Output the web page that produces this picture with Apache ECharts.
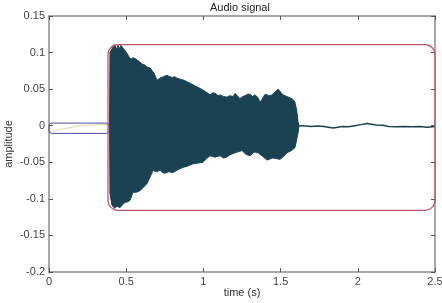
<!DOCTYPE html>
<html>
<head>
<meta charset="utf-8">
<script src="https://cdn.jsdelivr.net/npm/echarts@6/dist/echarts.min.js"></script>
<style>html,body{margin:0;padding:0;background:#fff}#c{width:442px;height:303px}</style>
</head>
<body>
<div id="c"></div>
<script>
// Upper envelope of the audio burst (time s, amplitude)
const upperT = [0.392,0.395,0.410,0.420,0.427,0.437,0.447,0.456,0.466,0.480,0.492,0.505,0.518,0.531,0.545,0.563,0.575,0.589,0.605,0.620,0.637,0.654,0.668,0.680,0.699,0.719,0.740,0.764,0.782,0.800,0.815,0.829,0.845,0.860,0.877,0.894,0.915,0.940,0.960,0.978,0.995,1.010,1.025,1.043,1.060,1.080,1.095,1.108,1.130,1.153,1.168,1.180,1.193,1.205,1.220,1.237,1.255,1.270,1.285,1.302,1.318,1.334,1.352,1.367,1.380,1.390,1.400,1.412,1.428,1.444,1.463,1.483,1.500,1.516,1.540,1.561,1.580,1.593,1.605,1.613,1.619];
const upperA = [0.000,0.100,0.106,0.104,0.111,0.104,0.110,0.105,0.110,0.106,0.103,0.099,0.094,0.091,0.093,0.091,0.089,0.087,0.084,0.083,0.080,0.079,0.075,0.072,0.062,0.065,0.067,0.069,0.067,0.066,0.067,0.065,0.064,0.063,0.062,0.060,0.058,0.055,0.053,0.051,0.049,0.047,0.045,0.042,0.045,0.044,0.041,0.042,0.040,0.039,0.041,0.042,0.040,0.044,0.041,0.037,0.040,0.041,0.043,0.043,0.040,0.042,0.039,0.032,0.036,0.040,0.043,0.044,0.041,0.042,0.046,0.050,0.046,0.042,0.040,0.038,0.036,0.032,0.020,0.005,0.000];
// Lower envelope
const lowerT = [0.392,0.395,0.408,0.427,0.440,0.460,0.475,0.492,0.510,0.525,0.544,0.565,0.589,0.612,0.635,0.655,0.674,0.695,0.719,0.735,0.751,0.775,0.803,0.835,0.868,0.900,0.933,0.965,0.997,1.020,1.043,1.075,1.108,1.130,1.150,1.170,1.192,1.220,1.250,1.275,1.302,1.330,1.354,1.385,1.412,1.450,1.496,1.520,1.541,1.570,1.593,1.613,1.619];
const lowerA = [0.000,-0.093,-0.109,-0.113,-0.110,-0.112,-0.108,-0.105,-0.104,-0.102,-0.091,-0.091,-0.089,-0.084,-0.079,-0.070,-0.061,-0.063,-0.061,-0.064,-0.065,-0.063,-0.064,-0.060,-0.057,-0.055,-0.052,-0.051,-0.050,-0.045,-0.041,-0.043,-0.041,-0.044,-0.043,-0.040,-0.038,-0.036,-0.034,-0.039,-0.041,-0.036,-0.037,-0.042,-0.047,-0.044,-0.046,-0.042,-0.037,-0.034,-0.030,-0.010,0.000];
// Residual signal after the burst
const tailT = [0.392,1.619,1.66,1.70,1.74,1.78,1.81,1.84,1.87,1.90,1.94,1.98,2.02,2.06,2.09,2.12,2.16,2.20,2.25,2.30,2.35,2.40,2.45,2.50];
const tailA = [0.000,0.000,-0.0005,-0.001,-0.0005,-0.001,-0.002,-0.003,-0.002,-0.001,-0.0015,0.000,0.0015,0.003,0.002,0.001,0.0005,-0.001,-0.0015,-0.001,-0.0015,-0.001,-0.002,-0.001];
// Faint yellow trace before onset
const preT = [0.00,0.10,0.20,0.385];
const preA = [-0.009,-0.004,0.000,0.002];
// Segment boxes: [t0, a0, t1, a1]
const silenceBox = [0.000,-0.0105,0.389,0.0036];
const soundBox = [0.382,-0.1157,2.500,0.111];
// Axis ticks
const xTicks = {min:0, max:2.5, interval:0.5};
const yTicks = {min:-0.2, max:0.15, interval:0.05};

const zip = (a,b)=>a.map((v,i)=>[v,b[i]]);
const wave = '#1a4253';
const font = 'Liberation Sans, Arial, sans-serif';

function boxSeries(box, color, r, w){
  return {
    type:'custom', xAxisIndex:0, yAxisIndex:0, clip:false, z:5,
    data:[box],
    renderItem:function(params, api){
      const p0 = api.coord([api.value(0), api.value(3)]);
      const p1 = api.coord([api.value(2), api.value(1)]);
      return {type:'rect', shape:{x:p0[0], y:p0[1], width:p1[0]-p0[0], height:p1[1]-p0[1], r:r},
        style:{fill:'none', stroke:color, lineWidth:w}};
    }
  };
}

function axisCommon(){
  return {
    axisLine:{show:true, onZero:false, lineStyle:{color:'#8a8a8a', width:1.5}},
    axisTick:{show:true, inside:true, length:4, lineStyle:{color:'#555'}},
    splitLine:{show:false}
  };
}

const chart = echarts.init(document.getElementById('c'), null, {renderer:'canvas'});
chart.setOption({
  backgroundColor:'#ffffff',
  animation:false,
  title:{text:'Audio signal', top:2, padding:0, left:210,
    textStyle:{fontSize:11, fontWeight:'normal', color:'#222', fontFamily:font}},
  grid:{left:49, right:7, top:16, bottom:31, containLabel:false, outerBoundsMode:'none'},
  xAxis:[
    Object.assign({type:'value', position:'bottom', min:xTicks.min, max:xTicks.max, interval:xTicks.interval,
      name:'time (s)', nameLocation:'middle', nameGap:15, nameMoveOverlap:false,
      nameTextStyle:{fontSize:11, color:'#333', fontFamily:font},
      axisLabel:{fontSize:11, color:'#444', margin:4, fontFamily:font}}, axisCommon()),
    Object.assign({type:'value', position:'top', min:xTicks.min, max:xTicks.max, interval:xTicks.interval,
      axisLabel:{show:false}}, axisCommon())
  ],
  yAxis:[
    Object.assign({type:'value', position:'left', min:yTicks.min, max:yTicks.max, interval:yTicks.interval,
      name:'amplitude', nameLocation:'middle', nameGap:35, nameRotate:90, nameMoveOverlap:false,
      nameTextStyle:{fontSize:11, color:'#333', fontFamily:font},
      axisLabel:{fontSize:11, color:'#444', margin:4, fontFamily:font}}, axisCommon()),
    Object.assign({type:'value', position:'right', min:yTicks.min, max:yTicks.max, interval:yTicks.interval,
      axisLabel:{show:false}}, axisCommon())
  ],
  series:[
    {type:'line', data:zip(preT, preA), symbol:'none', lineStyle:{color:'#e4dca0', width:1}, z:2},
    {type:'line', data:zip(upperT, upperA), symbol:'none', lineStyle:{color:wave, width:1},
      areaStyle:{color:wave, opacity:1, origin:0}, z:3},
    {type:'line', data:zip(lowerT, lowerA), symbol:'none', lineStyle:{color:wave, width:1},
      areaStyle:{color:wave, opacity:1, origin:0}, z:3},
    {type:'line', data:zip(tailT, tailA), symbol:'none', lineStyle:{color:wave, width:1.5}, z:4},
    boxSeries(silenceBox, '#4c4ca8', 3, 1),
    boxSeries(soundBox, '#c45a66', 10, 1.3)
  ]
});
</script>
</body>
</html>
